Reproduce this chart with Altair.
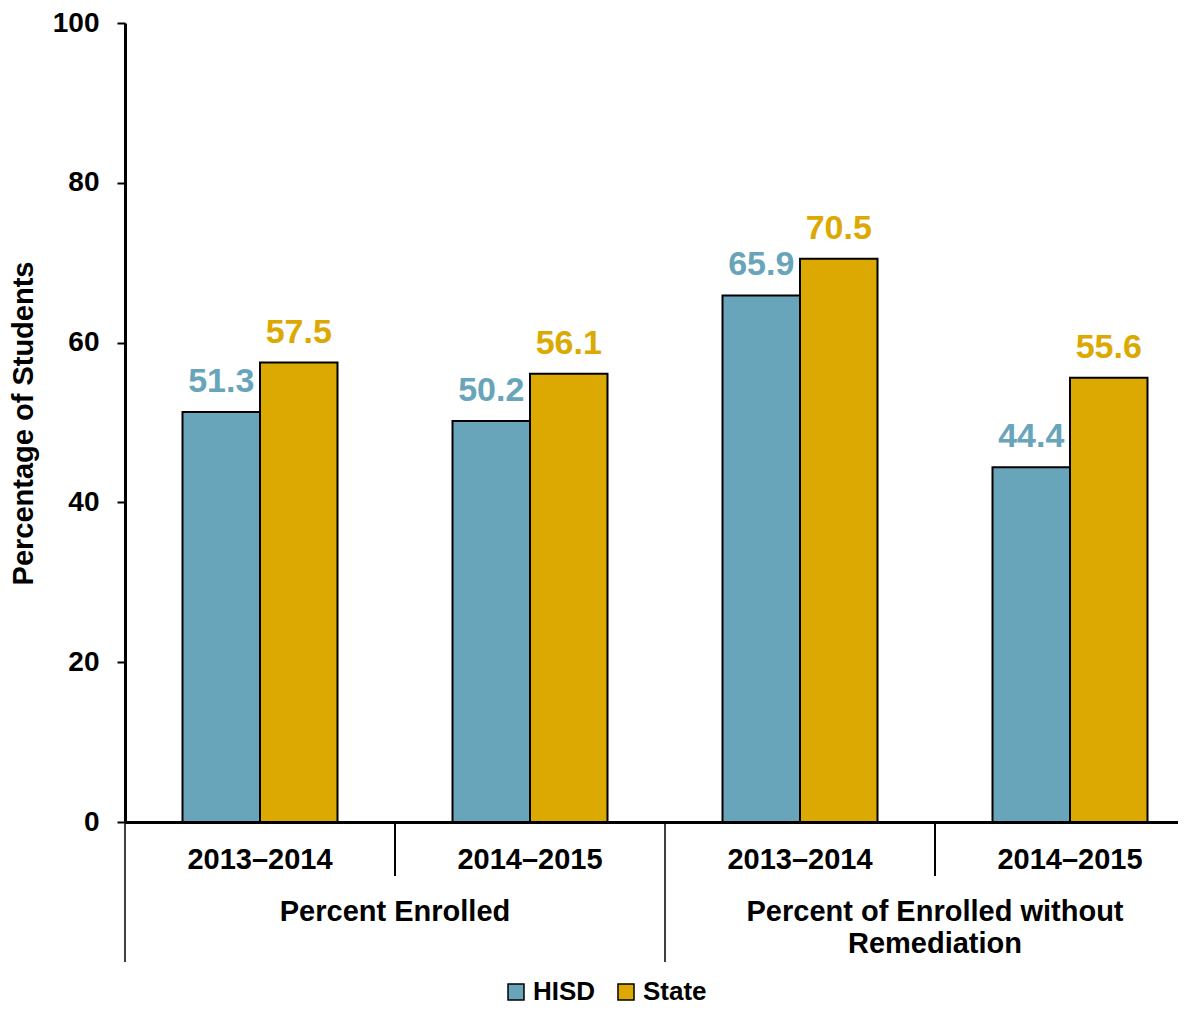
import altair as alt
import pandas as pd

categories = ["Percent Enrolled", "Percent Enrolled",
              "Percent of Enrolled without\nRemediation", "Percent of Enrolled without\nRemediation"]
years = ["2013–2014", "2014–2015", "2013–2014", "2014–2015"]
hisd = [51.3, 50.2, 65.9, 44.4]
state = [57.5, 56.1, 70.5, 55.6]
series_names = ["HISD", "State"]
series_colors = ["#68A4BA", "#DBA901"]
y_ticks = [0, 20, 40, 60, 80, 100]

keys = [f"{i + 1}|{y}" for i, y in enumerate(years)]

rows = []
for k, c, y, h, s in zip(keys, categories, years, hisd, state):
    rows.append(dict(key=k, cat=c, year=y, series="HISD", value=h))
    rows.append(dict(key=k, cat=c, year=y, series="State", value=s))
df = pd.DataFrame(rows)

sep_df = pd.DataFrame({"key": keys, "kind": ["long", "short", "long", "short"]})
cat_df = pd.DataFrame({"key": [keys[1], keys[3]], "label": [categories[0], categories[2]]})

x_scale = alt.Scale(domain=keys, range=[0, 1080], paddingInner=0, paddingOuter=0)
off_scale = alt.Scale(domain=series_names, paddingInner=0, paddingOuter=0.742)
color_scale = alt.Scale(domain=series_names, range=series_colors)

x_axis = alt.Axis(title=None, labelExpr="split(datum.label, '|')[1]", ticks=False, tickSize=0,
                  labelPadding=46, labelBaseline="alphabetic", labelFontSize=29,
                  labelFontWeight="bold", labelColor="black", domainColor="black",
                  domainWidth=3, labelAngle=0)
y_axis = alt.Axis(values=y_ticks, title="Percentage of Students", titleFontSize=29,
                  titleFontWeight="bold", titleColor="black", labelFontSize=28,
                  labelFontWeight="bold", labelColor="black", tickSize=8, tickWidth=2,
                  tickColor="black", domainColor="black", domainWidth=3, labelPadding=18,
                  grid=False, titleX=-102, titleY=400, titleAngle=270,
                  titleAlign="center", titleBaseline="middle")

y_title = "Percentage of Students"

bars = alt.Chart(df).mark_bar(stroke="black", strokeWidth=2).encode(
    x=alt.X("key:N", scale=x_scale, axis=x_axis, title=None),
    xOffset=alt.XOffset("series:N", scale=off_scale),
    y=alt.Y("value:Q", scale=alt.Scale(domain=[0, 100]), axis=y_axis, title=y_title),
    color=alt.Color("series:N", scale=color_scale, legend=alt.Legend(
        orient="none", legendX=378, legendY=956, direction="horizontal", title=None,
        symbolType="square", symbolSize=256, symbolStrokeColor="black",
        symbolStrokeWidth=1.5, labelFontSize=26, labelFontWeight="bold",
        labelColor="black", labelOffset=4, columnPadding=17, symbolOpacity=1)),
)

labels = alt.Chart(df).mark_text(fontSize=34, fontWeight="bold", dy=-20,
                                 baseline="alphabetic", align="center").encode(
    x=alt.X("key:N", title=None),
    xOffset=alt.XOffset("series:N"),
    y=alt.Y("value:Q", title=y_title),
    text=alt.Text("value:Q", format=".1f"),
    color=alt.Color("series:N", legend=None),
)

rules_short = alt.Chart(sep_df).transform_filter("datum.kind == 'short'").mark_rule(
    color="black", strokeWidth=2).encode(
    x=alt.X("key:N", bandPosition=0, title=None),
    y=alt.value(799), y2=alt.value(853))

rules_long = alt.Chart(sep_df).transform_filter("datum.kind == 'long'").mark_rule(
    color="black", strokeWidth=1.5).encode(
    x=alt.X("key:N", bandPosition=0, title=None),
    y=alt.value(799), y2=alt.value(939))

cat_text = alt.Chart(cat_df).mark_text(fontSize=29, fontWeight="bold", baseline="alphabetic",
                                       align="center", lineBreak="\n", lineHeight=32,
                                       color="black").encode(
    x=alt.X("key:N", bandPosition=0, title=None),
    y=alt.value(898),
    text="label:N")

chart = alt.layer(bars, labels, rules_short, rules_long, cat_text).properties(
    width=1053, height=799,
    autosize=alt.AutoSizeParams(type="none"),
    padding={"left": 117, "top": 15, "right": 0, "bottom": 185},
).configure(font="Liberation Sans").configure_view(stroke=None)

chart.save("out.html", embed_options={"renderer": "svg", "actions": False})
